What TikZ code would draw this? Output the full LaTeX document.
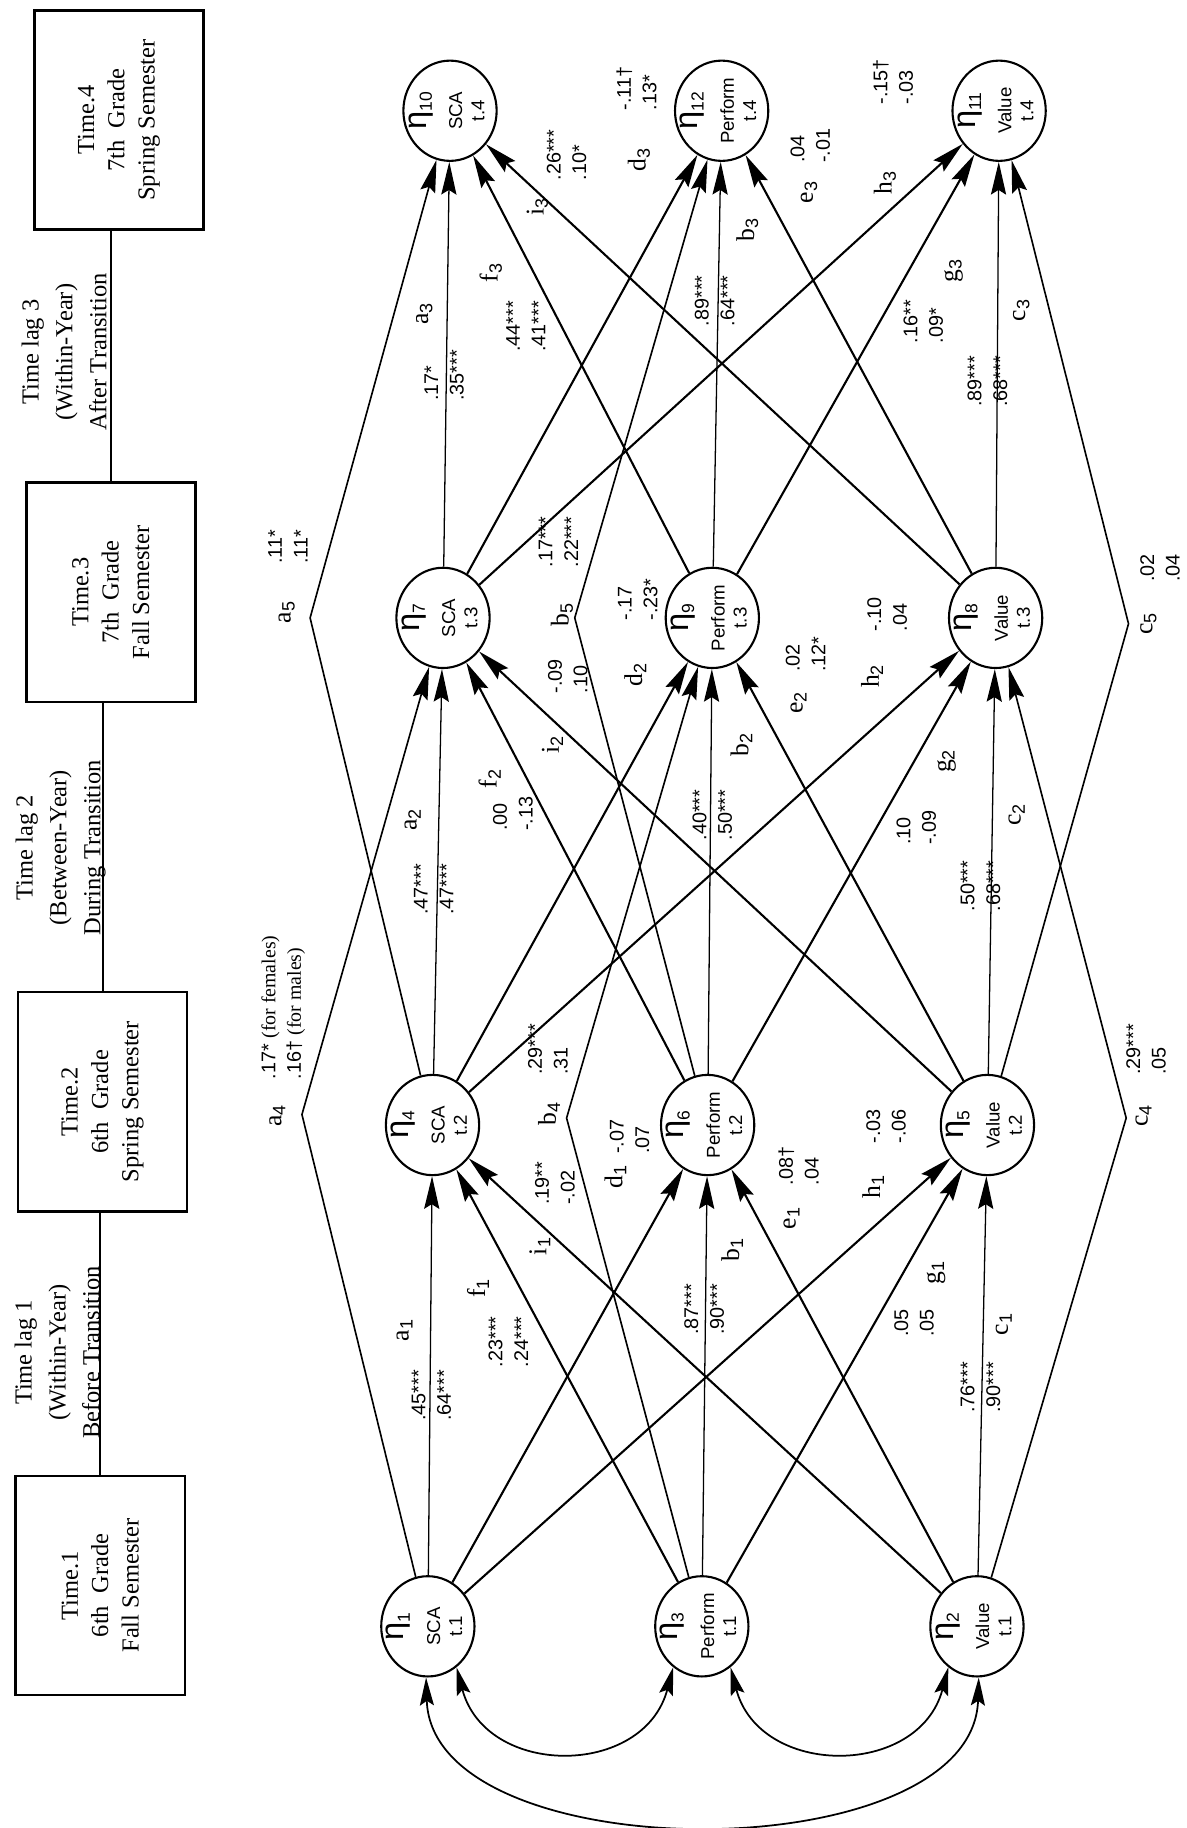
\documentclass[tikz,border=0pt]{standalone}
\usepackage{fontspec}
\setmainfont{Liberation Serif}
\setsansfont{Liberation Sans}
\usetikzlibrary{arrows.meta,shapes.geometric}
\newcommand{\lsub}[1]{\textsubscript{\sffamily #1}}
\newcommand{\esub}[1]{\raisebox{-5pt}{\fontsize{15}{15}\selectfont #1}}
\tikzset{
  latent/.style={draw, ellipse, line width=1.8pt, minimum width=80pt, minimum height=86pt, inner sep=0pt},
  ltext/.style={rotate=90, align=center, inner sep=0pt, font=\sffamily\fontsize{16}{19}\selectfont},
  period/.style={draw, line width=2.2pt, rotate=90, minimum width=188pt, minimum height=145pt, align=center, font=\fontsize{21}{26}\selectfont},
  lagtext/.style={rotate=90, align=center, inner sep=0pt, font=\fontsize{21}{29}\selectfont},
  coef/.style={rotate=90, align=left, inner sep=0pt, font=\sffamily\fontsize{17}{22}\selectfont},
  plab/.style={rotate=90, inner sep=0pt, font=\fontsize{22}{24}\selectfont},
  stab/.style={line width=1.1pt, -{Stealth[length=28pt,width=13pt,inset=4pt]}},
  xlag/.style={line width=1.8pt, -{Stealth[length=28pt,width=13pt,inset=4pt]}},
  lagtwo/.style={line width=1.4pt, -{Stealth[length=28pt,width=13pt,inset=4pt]}},
  covar/.style={line width=1.5pt, {Stealth[length=24pt,width=12pt,inset=4pt]}-{Stealth[length=24pt,width=12pt,inset=4pt]}},
}
\begin{document}
\begin{tikzpicture}[x=1pt, y=-1pt]
  \useasboundingbox (0,0) rectangle (1018,1568);

  \node[period] (tm1) at (86,1360)  {Time.1\\6th\ \ Grade\\Fall Semester};
  \node[period] (tm2) at (88,945)   {Time.2\\6th\ \ Grade\\Spring Semester};
  \node[period] (tm3) at (95,508)   {Time.3\\7th\ \ Grade\\Fall Semester};
  \node[period] (tm4) at (102,103)  {Time.4\\7th\ \ Grade\\Spring Semester};
  \node[lagtext] (lag1) at (49,1160) {Time lag 1\\(Within-Year)\\Before Transition};
  \node[lagtext] (lag2) at (52,727)  {Time lag 2\\(Between-Year)\\During Transition};
  \node[lagtext] (lag3) at (55,302)  {Time lag 3\\(Within-Year)\\After Transition};
  \draw[line width=1.6pt] (tm1.east) -- (tm1.east |- tm2.west);
  \draw[line width=1.6pt] (tm2.east) -- (tm2.east |- tm3.west);
  \draw[line width=1.6pt] (tm3.east) -- (tm3.east |- tm4.west);

  \node[latent] (e1)  at (367,1395) {};
  \node[latent] (e3)  at (602,1395) {};
  \node[latent] (e2)  at (838,1395) {};
  \node[latent] (e4)  at (371,965)  {};
  \node[latent] (e6)  at (607,965)  {};
  \node[latent] (e5)  at (847,965)  {};
  \node[latent] (e7)  at (380,530)  {};
  \node[latent] (e9)  at (611,530)  {};
  \node[latent] (e8)  at (854,530)  {};
  \node[latent] (e10) at (386,95)   {};
  \node[latent] (e12) at (619,95)   {};
  \node[latent] (e11) at (857,95)   {};

  \node[ltext] at ([xshift=-3pt]e1.center)  {{\fontsize{28}{28}\selectfont η\esub{1}}\\[12pt]SCA\\t.1};
  \node[ltext] at ([xshift=-3pt]e3.center)  {{\fontsize{28}{28}\selectfont η\esub{3}}\\[12pt]Perform\\t.1};
  \node[ltext] at ([xshift=-3pt]e2.center)  {{\fontsize{28}{28}\selectfont η\esub{2}}\\[12pt]Value\\t.1};
  \node[ltext] at ([xshift=-3pt]e4.center)  {{\fontsize{28}{28}\selectfont η\esub{4}}\\[12pt]SCA\\t.2};
  \node[ltext] at ([xshift=-3pt]e6.center)  {{\fontsize{28}{28}\selectfont η\esub{6}}\\[12pt]Perform\\t.2};
  \node[ltext] at ([xshift=-3pt]e5.center)  {{\fontsize{28}{28}\selectfont η\esub{5}}\\[12pt]Value\\t.2};
  \node[ltext] at ([xshift=-3pt]e7.center)  {{\fontsize{28}{28}\selectfont η\esub{7}}\\[12pt]SCA\\t.3};
  \node[ltext] at ([xshift=-3pt]e9.center)  {{\fontsize{28}{28}\selectfont η\esub{9}}\\[12pt]Perform\\t.3};
  \node[ltext] at ([xshift=-3pt]e8.center)  {{\fontsize{28}{28}\selectfont η\esub{8}}\\[12pt]Value\\t.3};
  \node[ltext] at ([xshift=-3pt]e10.center) {{\fontsize{28}{28}\selectfont η\esub{10}}\\[12pt]SCA\\t.4};
  \node[ltext] at ([xshift=-3pt]e12.center) {{\fontsize{28}{28}\selectfont η\esub{12}}\\[12pt]Perform\\t.4};
  \node[ltext] at ([xshift=-3pt]e11.center) {{\fontsize{28}{28}\selectfont η\esub{11}}\\[12pt]Value\\t.4};

  \coordinate (ka4) at (259,956);
  \coordinate (kb4) at (486,959);
  \coordinate (kc4) at (966,959);
  \coordinate (ka5) at (266,530);
  \coordinate (kb5) at (493,530);
  \coordinate (kc5) at (968,535);

  \draw[stab] (e1) -- (e4);
  \draw[stab] (e3) -- (e6);
  \draw[stab] (e2) -- (e5);
  \draw[xlag] (e3) -- (e4);
  \draw[xlag] (e2) -- (e4);
  \draw[xlag] (e1) -- (e6);
  \draw[xlag] (e2) -- (e6);
  \draw[xlag] (e1) -- (e5);
  \draw[xlag] (e3) -- (e5);

  \draw[stab] (e4) -- (e7);
  \draw[stab] (e6) -- (e9);
  \draw[stab] (e5) -- (e8);
  \draw[xlag] (e6) -- (e7);
  \draw[xlag] (e5) -- (e7);
  \draw[xlag] (e4) -- (e9);
  \draw[xlag] (e5) -- (e9);
  \draw[xlag] (e4) -- (e8);
  \draw[xlag] (e6) -- (e8);

  \draw[stab] (e7) -- (e10);
  \draw[stab] (e9) -- (e12);
  \draw[stab] (e8) -- (e11);
  \draw[xlag] (e9) -- (e10);
  \draw[xlag] (e8) -- (e10);
  \draw[xlag] (e7) -- (e12);
  \draw[xlag] (e8) -- (e12);
  \draw[xlag] (e7) -- (e11);
  \draw[xlag] (e9) -- (e11);

  \draw[lagtwo] (e1) -- (ka4) -- (e7);
  \draw[lagtwo] (e3) -- (kb4) -- (e9);
  \draw[lagtwo] (e2) -- (kc4) -- (e8);
  \draw[lagtwo] (e4) -- (ka5) -- (e10);
  \draw[lagtwo] (e6) -- (kb5) -- (e12);
  \draw[lagtwo] (e5) -- (kc5) -- (e11);

  \draw[covar] (e1.-55) .. controls +(25,95) and +(-25,95) .. (e3.-125);
  \draw[covar] (e3.-55) .. controls +(25,95) and +(-25,95) .. (e2.-125);
  \draw[covar] (e1.-92) .. controls +(5,167) and +(-5,167) .. (e2.-88);

  \node[plab] (la1) at (347,1141) {a\lsub{1}};
  \node[coef] (ca1) at (370,1197) {.45***\\.64***};
  \node[plab] (lf1) at (410,1105) {f\lsub{1}};
  \node[coef] (cf1) at (436,1151) {.23***\\.24***};
  \node[plab] (li1) at (463,1069) {i\lsub{1}};
  \node[coef] (ci1) at (476,1015) {.19**\\-.02};
  \node[plab] (ld1) at (528,1009) {d\lsub{1}};
  \node[coef] (cd1) at (540,975)  {-.07\\.07};
  \node[plab] (lb1) at (628,1072) {b\lsub{1}};
  \node[coef] (cb1) at (604,1123) {.87***\\.90***};
  \node[plab] (le1) at (679,1045) {e\lsub{1}};
  \node[coef] (ce1) at (685,1000) {.08†\\.04};
  \node[plab] (lh1) at (749,1018) {h\lsub{1}};
  \node[coef] (ch1) at (760,966)  {-.03\\-.06};
  \node[plab] (lg1) at (803,1092) {g\lsub{1}};
  \node[coef] (cg1) at (784,1135) {.05\\.05};
  \node[plab] (lc1) at (861,1136) {c\lsub{1}};
  \node[coef] (cc1) at (841,1190) {.76***\\.90***};

  \node[plab] (la4) at (238,957) {a\lsub{4}};
  \node[coef, anchor=west] (ca4) at (243,926) {.17* {\rmfamily(for females)}\\.16† {\rmfamily(for males)}};
  \node[plab] (lb4) at (471,955) {b\lsub{4}};
  \node[coef] (cb4) at (470,900) {.29***\\.31};
  \node[plab] (lc4) at (981,957) {c\lsub{4}};
  \node[coef] (cc4) at (983,900) {.29***\\.05};
  \node[plab] (la5) at (246,525) {a\lsub{5}};
  \node[coef] (ca5) at (247,469) {.11*\\.11*};
  \node[plab] (lb5) at (482,527) {b\lsub{5}};
  \node[coef] (cb5) at (479,465) {.17***\\.22***};
  \node[plab] (lc5) at (985,535) {c\lsub{5}};
  \node[coef] (cc5) at (995,487) {.02\\.04};

  \node[plab] (la2) at (354,703) {a\lsub{2}};
  \node[coef] (ca2) at (372,763) {.47***\\.47***};
  \node[plab] (lf2) at (420,668) {f\lsub{2}};
  \node[coef] (cf2) at (440,698) {.00\\-.13};
  \node[plab] (li2) at (474,639) {i\lsub{2}};
  \node[coef] (ci2) at (487,580) {-.09\\.10};
  \node[plab] (ld2) at (545,579) {d\lsub{2}};
  \node[coef] (cd2) at (547,514) {-.17\\-.23*};
  \node[plab] (lb2) at (636,639) {b\lsub{2}};
  \node[coef] (cb2) at (611,699) {.40***\\.50***};
  \node[plab] (le2) at (685,603) {e\lsub{2}};
  \node[coef] (ce2) at (691,561) {.02\\.12*};
  \node[plab] (lh2) at (748,580) {h\lsub{2}};
  \node[coef] (ch2) at (761,527) {-.10\\.04};
  \node[plab] (lg2) at (812,653) {g\lsub{2}};
  \node[coef] (cg2) at (786,710) {.10\\-.09};
  \node[plab] (lc2) at (872,699) {c\lsub{2}};
  \node[coef] (cc2) at (841,760) {.50***\\.68***};

  \node[plab] (la3) at (364,269) {a\lsub{3}};
  \node[coef] (ca3) at (381,322) {.17*\\.35***};
  \node[plab] (lf3) at (421,234) {f\lsub{3}};
  \node[coef] (cf3) at (451,280) {.44***\\.41***};
  \node[plab] (li3) at (461,177) {i\lsub{3}};
  \node[coef] (ci3) at (486,133) {.26***\\.10*};
  \node[plab] (ld3) at (548,137) {d\lsub{3}};
  \node[coef] (cd3) at (546,76)  {-.11†\\.13*};
  \node[plab] (lb3) at (641,197) {b\lsub{3}};
  \node[coef] (cb3) at (613,258) {.89***\\.64***};
  \node[plab] (le3) at (694,165) {e\lsub{3}};
  \node[coef] (ce3) at (695,125) {.04\\-.01};
  \node[plab] (lh3) at (759,157) {h\lsub{3}};
  \node[coef] (ch3) at (766,70)  {-.15†\\-.03};
  \node[plab] (lg3) at (818,232) {g\lsub{3}};
  \node[coef] (cg3) at (792,276) {.16**\\.09*};
  \node[plab] (lc3) at (876,266) {c\lsub{3}};
  \node[coef] (cc3) at (847,327) {.89***\\.68***};
\end{tikzpicture}
\end{document}
